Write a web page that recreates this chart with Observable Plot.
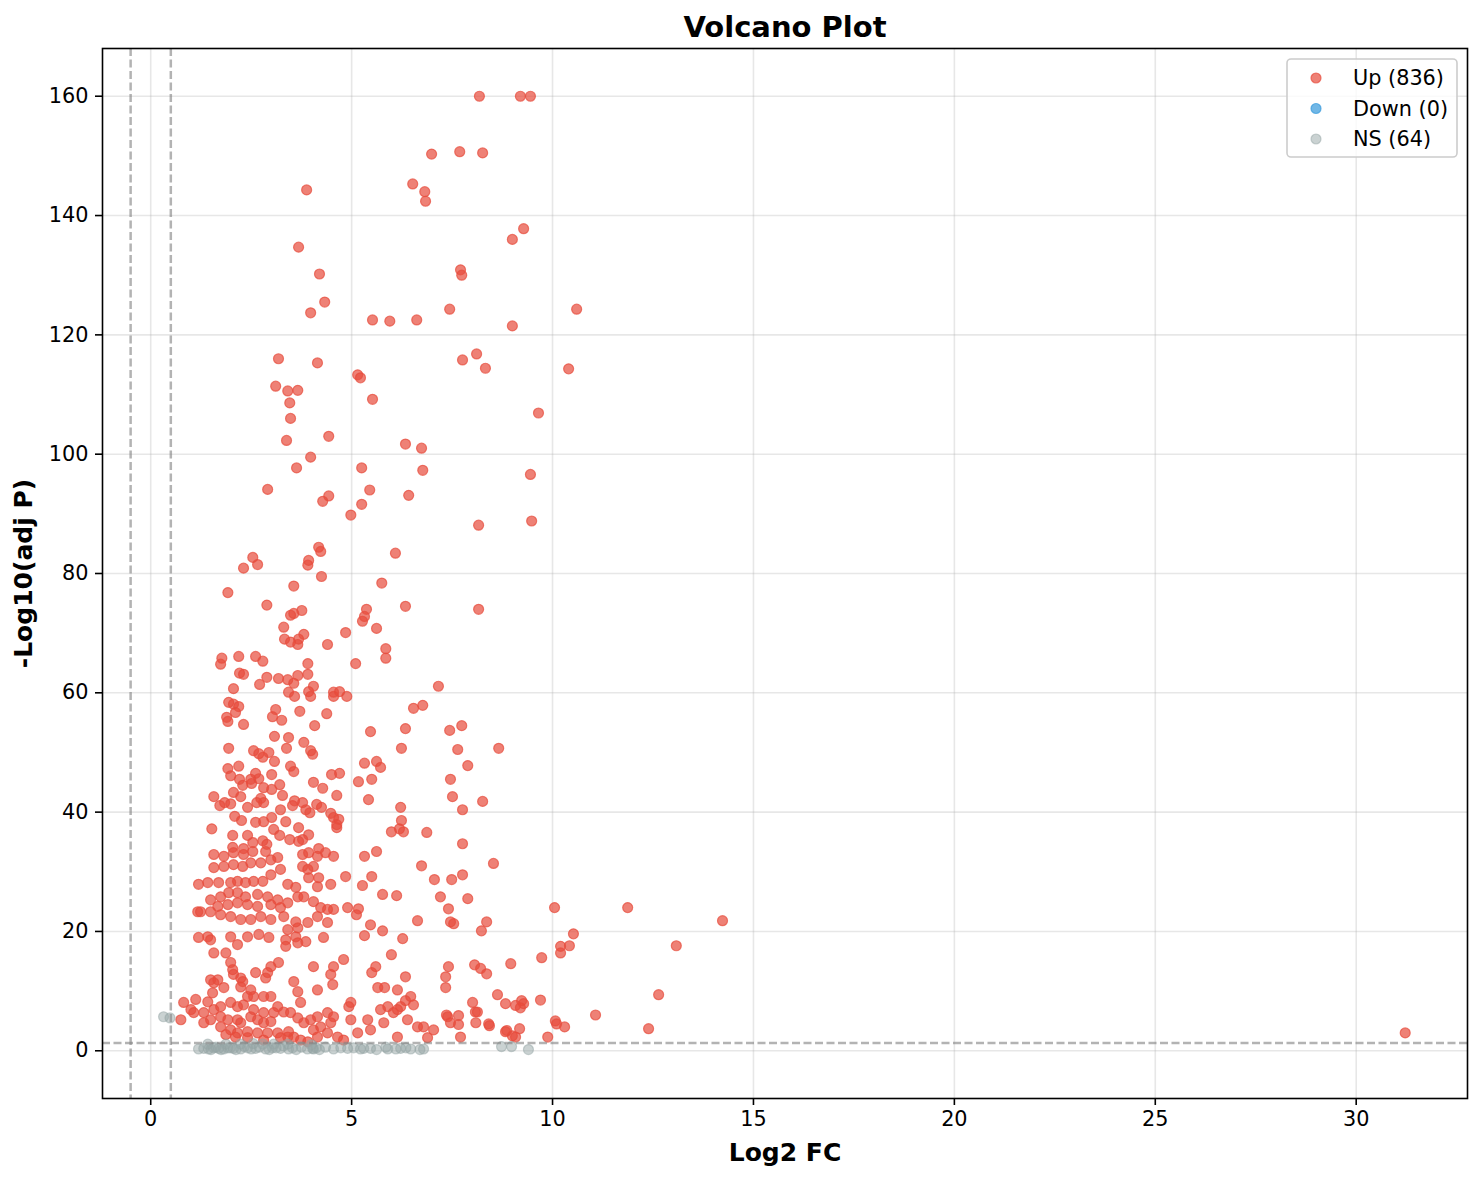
<!DOCTYPE html>
<html><head><meta charset="utf-8">
<script src="https://cdn.jsdelivr.net/npm/d3@7"></script>
<script src="https://cdn.jsdelivr.net/npm/@observablehq/plot@0.6"></script>
<style>body{margin:0;background:#fff} #chart svg{display:block;background:#fff}</style>
</head><body><div id="chart"></div>
<script>
const xTicks = [0, 5, 10, 15, 20, 25, 30];
const yTicks = [0, 20, 40, 60, 80, 100, 120, 140, 160];
const seriesNames = ["Up", "Down", "NS"];
const seriesColors = ["#E74C3C", "#3498DB", "#95A5A6"];
const seriesCounts = [836, 0, 64];
const fcThresholds = [-0.5, 0.5];
const pThresholds = [1.3];

const upPoints = [
[8.18,160],[9.20,160],[9.45,160],[7.69,150.7],[6.99,150.3],[8.26,150.5],[6.52,145.3],[6.82,144.0],[6.84,142.4],[3.88,144.3],
[9.28,137.8],[9.00,136.0],[3.68,134.7],[7.71,130.9],[7.74,130.0],[4.20,130.2],[4.33,125.5],[3.98,123.7],[7.44,124.3],[10.60,124.3],
[5.52,122.5],[5.95,122.3],[6.62,122.5],[9.00,121.5],[3.18,116.0],[8.11,116.8],[7.76,115.8],[4.15,115.3],[8.33,114.4],[10.40,114.3],
[3.11,111.4],[3.66,110.7],[3.41,110.6],[5.15,113.3],[5.22,112.8],[3.46,108.6],[5.52,109.2],[9.65,106.9],[3.48,106.0],[3.38,102.3],
[4.43,103.0],[6.34,101.7],[6.74,101.0],[3.98,99.5],[3.63,97.7],[5.25,97.7],[6.77,97.3],[9.45,96.6],[2.91,94.1],[5.45,94.0],
[6.42,93.1],[4.43,93.0],[4.28,92.1],[5.25,91.6],[4.98,89.8],[9.48,88.8],[8.16,88.1],[4.18,84.4],[4.23,83.7],[6.09,83.4],
[2.54,82.7],[3.93,82.2],[3.91,81.4],[2.66,81.5],[2.31,80.9],[4.25,79.5],[5.75,78.4],[1.92,76.8],[3.56,77.9],[3.76,73.8],
[2.89,74.7],[3.56,73.3],[3.48,73.0],[6.34,74.5],[5.37,74.0],[8.16,74.0],[5.32,72.8],[5.27,72.0],[3.31,71.0],[4.85,70.1],
[5.62,70.8],[3.81,69.8],[3.68,69.0],[3.33,69.0],[3.48,68.5],[3.66,68.1],[4.40,68.1],[5.85,67.4],[5.85,65.8],[1.77,65.8],
[1.74,64.8],[2.19,66.1],[2.61,66.1],[2.79,65.3],[3.91,64.9],[5.10,64.9],[2.21,63.3],[2.31,63.1],[3.18,62.4],[2.89,62.6],
[3.66,62.9],[3.91,63.1],[3.41,62.2],[3.56,61.6],[2.71,61.4],[4.05,61.1],[2.06,60.7],[7.16,61.1],[3.43,60.1],[3.93,60.2],
[4.55,60.1],[4.70,60.2],[4.88,59.4],[3.58,59.4],[4.55,59.4],[3.98,59.4],[1.94,58.4],[2.06,58.1],[2.19,57.7],[6.77,57.9],
[6.54,57.4],[3.11,57.2],[3.71,56.9],[2.11,56.7],[3.03,56.0],[1.89,55.9],[3.26,55.4],[4.38,56.5],[1.92,55.2],[2.31,54.7],
[4.08,54.5],[7.74,54.5],[7.44,53.7],[5.47,53.5],[6.34,54.0],[3.43,52.5],[3.08,52.7],[3.81,51.7],[1.94,50.7],[3.38,50.7],
[2.56,50.3],[3.98,50.3],[4.03,49.7],[2.94,50.0],[2.69,49.8],[6.24,50.7],[7.64,50.5],[8.66,50.7],[2.79,49.2],[5.62,48.5],
[5.72,47.5],[5.32,48.2],[3.08,48.5],[2.19,47.7],[1.92,47.3],[3.48,47.7],[3.56,46.8],[7.89,47.8],[1.99,46.1],[2.61,46.5],
[4.50,46.3],[4.70,46.5],[3.01,46.3],[2.21,45.5],[2.49,45.5],[2.69,45.6],[4.05,45.0],[5.50,45.5],[7.46,45.5],[5.17,45.1],
[2.29,44.5],[2.51,44.8],[3.21,44.6],[2.81,44.1],[4.28,44.0],[3.01,43.8],[2.06,43.3],[2.24,42.6],[1.57,42.6],[3.28,42.8],
[4.63,42.8],[7.51,42.6],[2.74,42.3],[5.42,42.1],[8.26,41.8],[1.84,41.6],[1.99,41.4],[1.72,41.1],[2.64,41.6],[2.81,41.6],
[3.58,41.9],[3.53,41.1],[3.78,41.6],[4.13,41.3],[4.25,40.8],[6.22,40.8],[7.76,40.4],[2.41,40.8],[3.23,40.4],[3.86,40.4],
[3.96,39.9],[4.48,39.8],[2.09,39.3],[4.55,39.1],[3.01,39.1],[4.68,38.8],[6.24,38.6],[2.26,38.6],[3.36,38.4],[2.61,38.3],
[2.81,38.4],[4.63,37.9],[4.63,37.4],[1.52,37.2],[3.68,37.4],[3.06,37.1],[6.29,36.7],[6.87,36.6],[5.99,36.7],[6.19,37.2],
[2.04,36.1],[2.41,36.1],[3.21,36.1],[3.93,36.2],[3.46,35.4],[2.79,35.2],[3.78,35.4],[2.54,34.9],[2.89,34.6],[3.68,35.1],
[7.76,34.7],[2.04,34.1],[2.31,33.9],[4.18,33.9],
[5.62,33.4],[5.32,32.6],[8.53,31.4],[6.74,31.0],[5.50,29.2],[7.76,29.5],[7.06,28.7],[7.49,28.7],[5.27,27.7],[5.77,26.2],
[6.12,26.0],[7.21,25.8],[7.89,25.5],[5.17,23.8],[7.41,23.8],[10.05,24.0],[11.87,24.0],[5.12,22.8],[6.64,21.8],[7.46,21.6],
[7.54,21.3],[14.23,21.8],[8.36,21.6],[5.47,21.1],[5.77,20.1],[10.52,19.6],[8.23,20.1],[5.32,19.3],[6.27,18.8],[10.42,17.6],
[10.20,17.5],[13.08,17.6],[10.20,16.4],[5.99,16.1],[9.73,15.6],[8.96,14.6],[8.06,14.4],[7.41,14.1],[5.60,14.1],[5.50,13.1],
[8.21,13.8],[8.36,12.9],[6.34,12.4],[7.34,12.4],[7.34,10.6],[5.82,10.6],[12.64,9.4],[8.63,9.4],[8.01,8.1],[8.83,7.9],
[9.08,7.6],[9.70,8.5],[9.23,8.4],[9.28,7.9],[6.34,8.4],[6.54,7.7],[4.98,8.1],[4.93,7.4],[11.07,6.0],[7.66,5.9],
[7.36,6.0],[6.14,6.9],[12.39,3.7],[10.30,4.0],[10.07,5.0],[10.10,4.5],[9.18,3.7],[8.86,3.4],[9.00,2.5],[9.88,2.3],
[31.22,3.0],[7.71,2.3],[8.41,4.5],[8.09,4.7],
[1.57,32.9],[1.82,32.6],[2.06,33.2],[2.31,32.9],[2.54,33.4],[2.86,33.4],[1.57,30.7],[1.82,30.9],[2.06,31.2],[2.29,30.9],
[2.49,31.5],[2.74,31.5],[2.99,32.0],[3.16,32.4],[1.19,27.9],[1.42,28.2],[1.69,28.2],[1.99,28.2],[2.16,28.4],[2.36,28.2],
[2.56,28.4],[2.79,28.4],[2.99,29.5],[3.23,30.4],[3.41,27.9],[3.61,27.4],[3.78,30.9],[3.91,30.4],[4.05,30.9],[3.78,32.9],
[3.93,33.2],[4.15,32.6],[4.35,33.2],[4.55,32.6],[3.93,29.0],[4.18,29.0],[4.15,27.5],[4.48,27.9],[4.85,29.2],[1.49,25.3],
[1.74,25.8],[1.94,26.5],[2.16,26.5],[2.36,25.8],[2.66,26.2],[2.91,25.8],[3.16,25.3],[3.41,24.8],[1.67,24.2],[1.92,24.5],
[2.16,24.8],[2.41,24.5],[2.66,24.2],[2.99,24.5],[3.23,24.0],[1.17,23.3],[1.24,23.3],[1.49,23.3],[1.74,22.8],[1.99,22.5],
[2.24,22.0],[2.49,22.0],[2.74,22.5],[2.99,22.0],[3.31,22.5],[3.66,25.8],[3.81,25.8],[4.05,25.0],[4.23,24.0],[4.40,23.7],
[4.55,23.7],[3.61,21.6],[3.91,21.5],[4.15,22.5],[4.40,21.5],[4.90,24.0],[1.19,19.0],[1.42,19.1],[1.49,18.6],[1.99,19.1],
[2.16,17.8],[2.41,19.1],[2.69,19.5],[2.94,19.0],[3.36,18.6],[3.61,19.1],[3.66,18.1],[3.86,18.3],[3.36,17.5],[4.30,19.0],
[3.41,20.3],[3.66,20.6],[1.57,16.4],[1.87,16.4],[1.99,14.8],[2.04,13.6],[2.06,12.8],[2.24,12.2],[2.29,11.6],[2.99,14.1],
[3.18,14.8],[2.91,13.1],[2.86,12.2],[2.61,13.1],[4.80,15.3],[4.55,14.1],[4.48,12.8],[4.53,11.1],[4.05,14.1],[3.56,11.6],
[3.66,9.9],[4.15,10.2],[3.73,8.1],[1.49,11.9],[1.67,11.9],[1.57,11.4],[1.82,10.6],[2.24,10.7],[2.49,10.2],[2.41,9.1],
[2.56,9.1],[2.81,9.1],[2.99,9.1],[3.16,7.4],[0.82,8.1],[1.12,8.6],[1.42,8.2],[1.54,9.7],[1.00,6.9],[1.07,6.4],
[0.75,5.2],[1.32,6.4],[1.57,6.9],[1.74,7.4],[1.99,8.1],[2.16,7.4],[2.31,7.7],[2.56,6.9],[2.81,6.4],[3.06,6.4],
[3.31,6.5],[3.48,6.4],[3.66,5.5],[3.81,4.7],[3.98,5.2],[4.15,5.7],[4.40,6.4],[4.55,5.7],[4.48,4.7],[4.23,4.0],
[4.05,3.5],[1.32,4.7],[1.49,5.2],[1.74,5.7],[1.92,5.2],[2.16,5.2],[2.24,4.7],[2.49,5.7],[2.66,5.2],[2.81,4.7],
[2.99,4.9],[1.74,4.0],[1.99,3.5],[2.16,3.0],[2.41,3.2],[2.66,3.0],[2.91,3.0],[3.16,3.0],[3.41,2.3],[3.56,2.3],
[3.73,1.8],[3.91,1.5],[4.15,2.3],[4.40,3.0],[4.65,2.3],[4.80,1.8],[1.87,2.7],[2.11,2.3],[2.41,2.2],[2.81,1.8],
[3.23,2.2],[3.43,3.2],
[4.98,5.2],[5.15,3.0],[5.40,5.2],[5.47,3.5],[5.65,10.6],[5.72,6.9],[5.80,4.7],[5.90,7.4],[6.04,6.4],[6.14,10.2],
[6.14,2.3],[6.22,7.4],[6.39,5.2],[6.47,9.1],[6.64,4.0],[6.79,4.0],[6.89,2.2],[7.04,3.5],[7.39,5.7],[7.46,4.7],
[7.66,4.4],[8.08,6.5],[8.13,6.5],[8.43,4.2],[8.83,3.2],[9.08,2.3],[9.20,7.2]
];
const downPoints = [];
const nsPoints = [
[0.32,5.7],[0.48,5.5],
[1.19,0.3],[1.32,0.4],[1.44,0.3],[1.57,0.5],[1.69,0.4],[1.82,0.3],[1.92,0.5],[2.06,0.4],[2.24,0.3],[2.41,0.5],
[2.61,0.4],[2.86,0.3],[3.03,0.5],[3.23,0.4],[3.43,0.3],[3.53,0.5],[4.03,0.4],[4.05,0.3],[4.55,0.3],[4.73,0.5],
[4.90,0.4],[5.05,0.5],[5.22,0.3],[5.47,0.4],[5.90,0.3],[6.22,0.4],[6.47,0.3],[6.79,0.3],
[1.42,1.1],[1.87,1.1],[2.24,1.1],[2.79,1.1],[3.06,1.1],[3.41,1.1],
[8.73,0.7],[8.98,0.7],[9.40,0.2],
[1.50,0.2],[1.62,0.6],[1.75,0.2],[1.98,0.5],[2.12,0.2],[2.33,0.7],[2.50,0.3],[2.70,0.6],[2.95,0.2],[3.12,0.5],
[3.30,0.8],[3.62,0.2],[3.75,0.6],[3.90,0.3],[4.12,0.5],[4.20,0.2],[4.35,0.6],[5.30,0.4],[5.62,0.2],[5.85,0.6],
[6.10,0.3],[6.35,0.5],[6.70,0.2],[4.00,1.0],[2.55,1.2]
];

const font = "DejaVu Sans, Verdana, sans-serif";
const opac = [0.7, 0.7, 0.5];
const dotStyle = (i) => ({
  x: d => d[0], y: d => d[1], r: 5,
  fill: seriesColors[i], fillOpacity: opac[i],
  stroke: seriesColors[i], strokeOpacity: opac[i], strokeWidth: 1.2
});
const dashStyle = {stroke: "gray", strokeOpacity: 0.6, strokeWidth: 2.5, strokeDasharray: "8,3.5"};

const chart = Plot.plot({
  width: 1482, height: 1180,
  marginLeft: 102, marginRight: 15, marginTop: 48, marginBottom: 82,
  style: {fontFamily: font, fontSize: "20.8px", color: "black", background: "white"},
  x: {domain: [-1.2, 32.77], label: null},
  y: {domain: [-8, 168], label: null},
  marks: [
    Plot.gridX(xTicks, {stroke: "#b0b0b0", strokeOpacity: 0.3, strokeWidth: 1.6}),
    Plot.gridY(yTicks, {stroke: "#b0b0b0", strokeOpacity: 0.3, strokeWidth: 1.6}),
    Plot.dot(upPoints, dotStyle(0)),
    Plot.dot(downPoints, dotStyle(1)),
    Plot.dot(nsPoints, dotStyle(2)),
    Plot.ruleX(fcThresholds, dashStyle),
    Plot.ruleY(pThresholds, dashStyle),
    Plot.frame({stroke: "black", strokeWidth: 1.6}),
    Plot.axisX({ticks: xTicks, tickSize: 7, tickPadding: 6, stroke: "black", strokeWidth: 1.6, fill: "black", fontSize: 20.8, label: null}),
    Plot.axisY({ticks: yTicks, tickSize: 7, tickPadding: 7, stroke: "black", strokeWidth: 1.6, fill: "black", fontSize: 20.8, label: null}),
    Plot.text(["Volcano Plot"], {frameAnchor: "top", lineAnchor: "middle", dy: -21, fontSize: 29, fontWeight: "bold", fill: "black"}),
    Plot.text(["Log2 FC"], {frameAnchor: "bottom", lineAnchor: "middle", dy: 54, fontSize: 25, fontWeight: "bold", fill: "black"}),
    Plot.text(["-Log10(adj P)"], {frameAnchor: "left", textAnchor: "middle", lineAnchor: "middle", dx: -79, rotate: -90, fontSize: 25, fontWeight: "bold", fill: "black"})
  ]
});

document.getElementById("chart").append(chart);

// legend
const svg = d3.select(chart);
const lg = svg.append("g").attr("font-family", font).attr("font-size", "20.8px").attr("text-anchor", "start");
lg.append("rect").attr("x", 1287).attr("y", 59).attr("width", 170).attr("height", 98)
  .attr("rx", 4).attr("fill", "white").attr("fill-opacity", 0.8).attr("stroke", "#cccccc").attr("stroke-width", 1.6);
seriesNames.forEach((name, i) => {
  const cy = 78 + i * 30.5;
  lg.append("circle").attr("cx", 1316).attr("cy", cy).attr("r", 5)
    .attr("fill", seriesColors[i]).attr("fill-opacity", opac[i])
    .attr("stroke", seriesColors[i]).attr("stroke-opacity", opac[i]).attr("stroke-width", 1.2);
  lg.append("text").attr("x", 1353).attr("y", cy).attr("dy", "0.35em").attr("fill", "black")
    .attr("text-anchor", "start").text(`${name} (${seriesCounts[i]})`);
});
</script>
</body></html>
